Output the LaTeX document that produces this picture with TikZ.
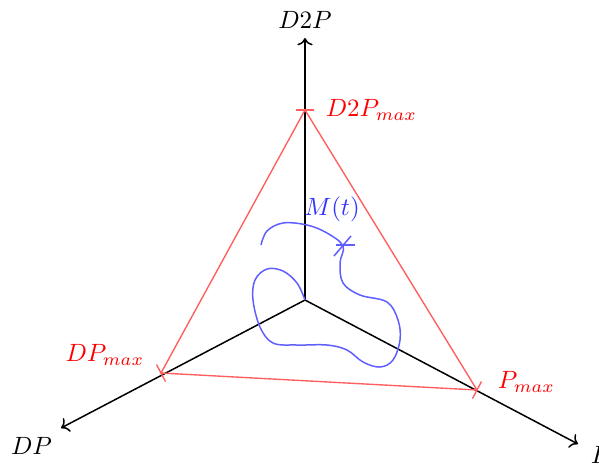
\documentclass[tikz,border=0pt]{standalone}
\usepackage{amsmath}
\usepackage{tikz}
\usetikzlibrary{arrows.meta,positioning,calc}
\usepackage{xcolor}
\definecolor{maxred}{RGB}{255,95,95}
\definecolor{pathblue}{RGB}{95,95,255}

\tikzset{
  axis/.style={->,black,line width=0.6pt},
  bound/.style={maxred,line width=0.55pt},
  tick/.style={maxred,line width=0.55pt},
  boundlabel/.style={text=red},
  trace/.style={pathblue,line width=0.6pt}
}

\begin{document}
\begin{tikzpicture}[x=0.4pt,y=-0.4pt]
  \useasboundingbox (0,0) rectangle (599,463);

  % axes
  \coordinate (O) at (305,300);
  \coordinate (D2P) at (305,38);
  \coordinate (DP) at (61,428);
  \coordinate (P) at (578,444);
  \draw[axis] (O) -- (D2P) node[above] (d2plabel) {$D2P$};
  \draw[axis] (O) -- (DP) node[below left] (dplabel) {$DP$};
  \draw[axis] (O) -- (P);
  \node[anchor=north west] (plabel) at (582,438) {$P$};

  % bounds
  \coordinate (D2Pmax) at (305,110);
  \coordinate (DPmax) at (161,373);
  \coordinate (Pmax) at (477,390);
  \draw[bound] (D2Pmax) -- (DPmax) -- (Pmax) -- cycle;
  \draw[tick] ($(D2Pmax)+(-9,0)$) -- ($(D2Pmax)+(9,0)$);
  \draw[tick] ($(DPmax)+(-4.5,-8.5)$) -- ($(DPmax)+(4.5,8.5)$);
  \draw[tick] ($(Pmax)+(-4.5,8.5)$) -- ($(Pmax)+(4.5,-8.5)$);
  \node[boundlabel,anchor=west] (d2pmaxlabel) at (317,110) {$D2P_{max}$};
  \node[boundlabel,anchor=east] (dpmaxlabel) at (153,355) {$DP_{max}$};
  \node[boundlabel,anchor=west] (pmaxlabel) at (489,382) {$P_{max}$};

  % M(t)
  \draw[trace] plot[smooth,tension=0.6] coordinates {
    (261,245) (267,231) (283,223) (307,225) (327,233) (343,246)
    (340,263) (343,283) (360,295) (387,302) (398,320) (400,340)
    (393,360) (380,367) (363,362) (347,350) (327,345) (297,345)
    (273,343) (260,327) (253,300) (255,280) (267,269) (283,271)
    (297,283) (305,300)};
  \coordinate (M) at (344,245);
  \draw[trace] ($(M)+(-8,0)$) -- ($(M)+(11,0)$);
  \draw[trace] ($(M)+(-10,11)$) -- ($(M)+(7,-9)$);
  \node[text=blue!80] (mlabel) at (332,209) {$M(t)$};
\end{tikzpicture}
\end{document}
